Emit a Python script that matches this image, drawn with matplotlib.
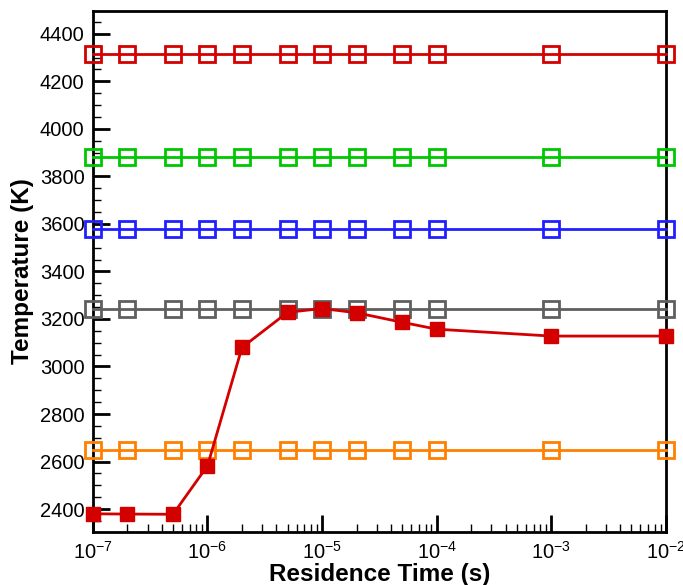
import matplotlib
matplotlib.use("Agg")
import matplotlib.pyplot as plt
from matplotlib.ticker import LogLocator, MultipleLocator, NullFormatter

plt.rcParams['font.family'] = ['Liberation Sans', 'DejaVu Sans']
plt.rcParams['mathtext.fontset'] = 'custom'
plt.rcParams['mathtext.rm'] = 'Liberation Sans'
plt.rcParams['mathtext.it'] = 'Liberation Sans'

# residence times (s)
tau = [1e-7, 2e-7, 5e-7, 1e-6, 2e-6, 5e-6, 1e-5, 2e-5, 5e-5, 1e-4, 1e-3, 1e-2]

# constant reference temperatures (K)
t_red = 4315
t_green = 3883
t_blue = 3580
t_gray = 3240
t_orange = 2647

# computed temperature vs residence time
t_calc = [2380, 2379, 2378, 2582, 3080, 3228, 3244, 3226, 3186, 3157, 3128, 3128]

fig = plt.figure(figsize=(6.83, 5.85), dpi=100)
ax = fig.add_axes([0.136, 0.09, 0.839, 0.892])

hollow = dict(marker='s', markersize=11, markerfacecolor='none',
              markeredgewidth=2, linewidth=2, clip_on=False, zorder=3)
for val, col in [(t_red, '#d40000'), (t_green, '#00c800'), (t_blue, '#2020ff'),
                 (t_gray, '#5f5f5f'), (t_orange, '#ff8000')]:
    ax.plot(tau, [val] * len(tau), color=col, markeredgecolor=col, **hollow)

ax.plot(tau, t_calc, color='#d40000', marker='s', markersize=9.5,
        linewidth=2, clip_on=False, zorder=4)

ax.set_xscale('log')
ax.set_xlim(1e-7, 1e-2)
ax.set_ylim(2302, 4498)

ax.yaxis.set_major_locator(MultipleLocator(200))
ax.yaxis.set_minor_locator(MultipleLocator(50))
ax.xaxis.set_major_locator(LogLocator(base=10, numticks=20))
ax.xaxis.set_minor_locator(LogLocator(base=10, subs=range(2, 10), numticks=20))
ax.xaxis.set_minor_formatter(NullFormatter())

ax.tick_params(which='both', direction='in', top=False, right=False,
               labelsize=14.5, width=2)
ax.tick_params(which='major', length=12, pad=6)
ax.tick_params(which='minor', length=6, width=1)

for s in ax.spines.values():
    s.set_linewidth(2)

ax.set_xlabel('Residence Time (s)', fontsize=17.5, fontweight='bold', labelpad=0)
ax.set_ylabel('Temperature (K)', fontsize=17.5, fontweight='bold', labelpad=4)

fig.savefig('out.png', dpi=100)
